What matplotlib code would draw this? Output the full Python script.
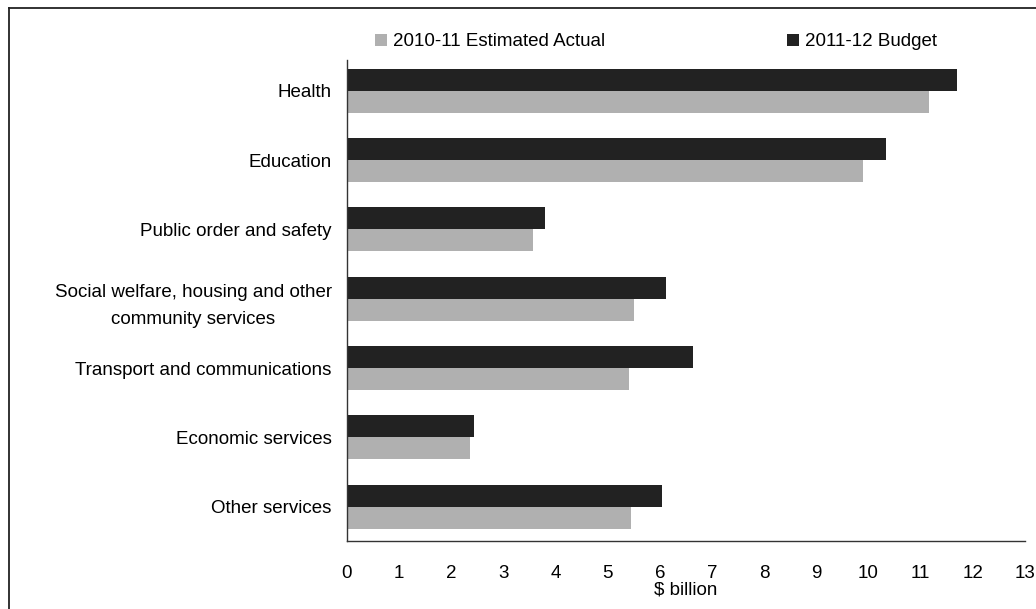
import numpy as np
import matplotlib; matplotlib.use('Agg')
import matplotlib.pyplot as plt
from matplotlib.lines import Line2D

plt.rcParams['font.family'] = ['Liberation Sans', 'DejaVu Sans']

categories = ['Health', 'Education', 'Public order and safety',
              'Social welfare, housing and other\ncommunity services',
              'Transport and communications', 'Economic services', 'Other services']
actual_2010 = [11.16, 9.89, 3.57, 5.50, 5.41, 2.36, 5.45]
budget_2011 = [11.70, 10.34, 3.80, 6.12, 6.63, 2.44, 6.04]
xticks = list(range(0, 14))

W, H = 1036, 609
fs = 13.5
fig = plt.figure(figsize=(W/100, H/100), dpi=100)
ax = fig.add_axes([347/W, 1-541/H, (1025-347)/W, (541-60)/H])

# outer frame: only left and top edges are visible in the reference
fig.add_artist(Line2D([9/W, 9/W], [0, 1-8/H], color='#222222', lw=1.3))
fig.add_artist(Line2D([9/W, 1], [1-8/H, 1-8/H], color='#222222', lw=1.3))

y = np.arange(len(categories))
h = 0.317
b1 = ax.barh(y - h/2, budget_2011, height=h, color='#222222')
b2 = ax.barh(y + h/2, actual_2010, height=h, color='#b0b0b0')

ax.set_ylim(6.495, -0.443)
ax.set_xlim(0, 13)
ax.set_xticks(xticks)
ax.set_yticks(y)
ax.set_yticklabels(categories, multialignment='center', linespacing=1.8)
ax.tick_params(axis='y', length=0, pad=11, labelsize=fs)
ax.tick_params(axis='x', length=0, pad=17, labelsize=fs)
for s in ['top', 'right']:
    ax.spines[s].set_visible(False)
for s in ['left', 'bottom']:
    ax.spines[s].set_color('#333333')
    ax.spines[s].set_linewidth(1)
ax.set_xlabel('$ billion', fontsize=fs, labelpad=0)

leg_kw = dict(loc='center left', frameon=False, fontsize=fs, handlelength=0.64,
              handleheight=0.64, handletextpad=0.32, borderpad=0, borderaxespad=0)
fig.legend([b2], ['2010-11 Estimated Actual'], bbox_to_anchor=(375/W, 1-42/H), **leg_kw)
fig.legend([b1], ['2011-12 Budget'], bbox_to_anchor=(787/W, 1-42/H), **leg_kw)

fig.savefig('out.png', dpi=100)
